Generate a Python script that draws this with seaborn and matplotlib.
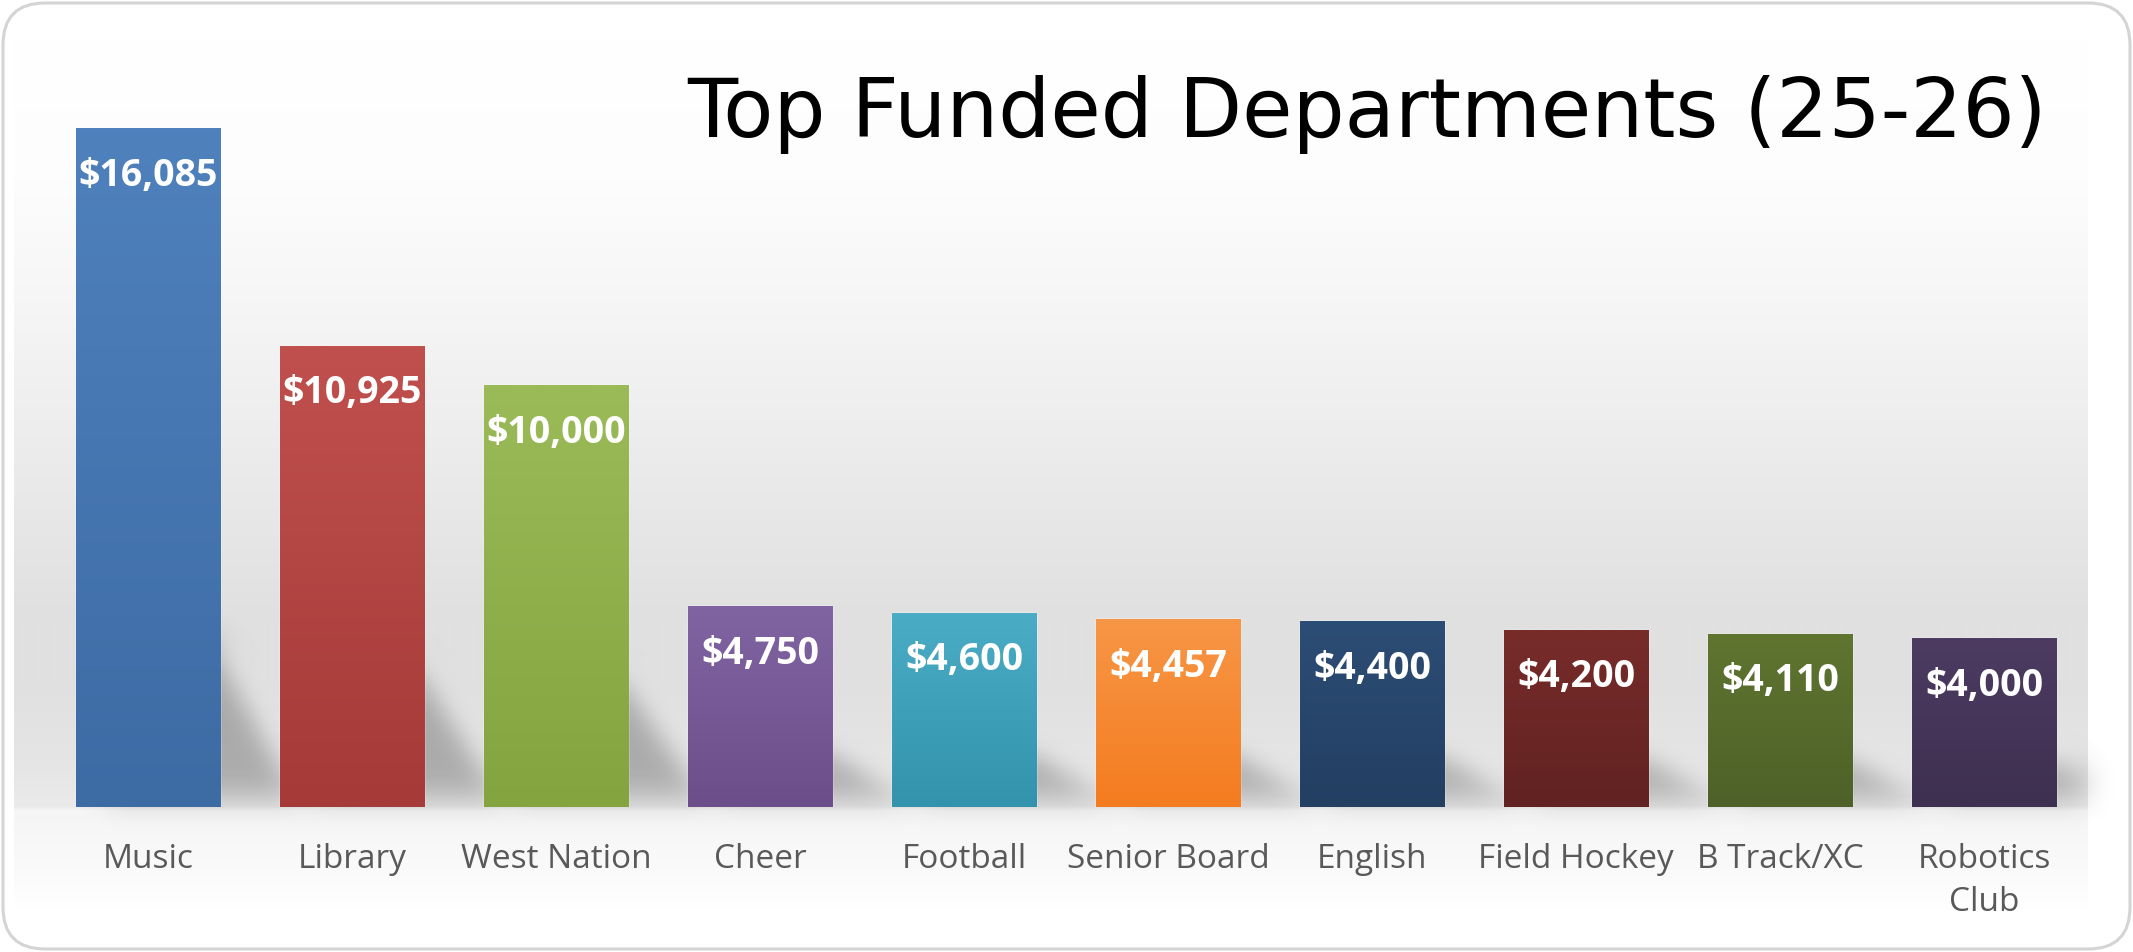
import numpy as np
import matplotlib
matplotlib.use("Agg")
import matplotlib.pyplot as plt
import seaborn as sns
from matplotlib.patches import FancyBboxPatch, Polygon
from matplotlib.collections import PatchCollection
from matplotlib.colors import to_rgb
from matplotlib.transforms import IdentityTransform

# ---------------- data ----------------
departments = ["Music", "Library", "West Nation", "Cheer", "Football",
               "Senior Board", "English", "Field Hockey", "B Track/XC", "Robotics\nClub"]
amounts = [16085, 10925, 10000, 4750, 4600, 4457, 4400, 4200, 4110, 4000]
title_text = "Top Funded Departments (25-26)"

# palette (gradient top -> bottom)
top_colors = ["#4F81BD", "#C0504D", "#9BBB59", "#8064A2", "#4BACC6",
              "#F79646", "#2C4D75", "#772C2A", "#5F7530", "#4D3B62"]
bottom_colors = ["#3D6BA4", "#A53A38", "#84A43F", "#6C4E8A", "#3393AD",
                 "#F47C20", "#233F62", "#612221", "#4E6128", "#3E3050"]

W, H, DPI = 2133, 952, 100
YMAX = 18000

sns.set_theme(style="white")
plt.rcParams['font.family'] = ['Open Sans', 'DejaVu Sans']

fig = plt.figure(figsize=(W / DPI, H / DPI), dpi=DPI)
fig.patch.set_facecolor("white")

# ---------------- background gradient (wall + floor) ----------------
bg_top, bg_bot, bg_l, bg_r = 40, 910, 14, 2088
bg = fig.add_axes([bg_l / W, (H - bg_bot) / H, (bg_r - bg_l) / W, (bg_bot - bg_top) / H], zorder=0)
ys = np.arange(bg_top, bg_bot)
stops_y = [40, 180, 300, 420, 520, 620, 680, 760, 806, 810, 870, 910]
stops_v = [255, 253, 246, 238, 231, 224, 224, 229, 234, 245, 250, 255]
col = np.interp(ys, stops_y, stops_v) / 255.0
grad = np.repeat(col[:, None], 4, axis=1)
grad_rgb = np.dstack([grad, grad, grad])
bg.imshow(grad_rgb, aspect="auto", extent=[0, 1, 0, 1], interpolation="bilinear")
bg.set_axis_off()

# ---------------- main axes ----------------
px_per_unit_y = 759.8 / YMAX
ax_left, ax_w = 46, 2040
base_px = 807
ax_h = YMAX * px_per_unit_y
ax = fig.add_axes([ax_left / W, (H - base_px) / H, ax_w / W, ax_h / H], zorder=2)
ax.set_facecolor("none")

bar_w = 0.71
sns.barplot(x=departments, y=amounts, hue=departments, palette=top_colors,
            legend=False, width=bar_w, saturation=1, ax=ax, zorder=3)


# ---------------- blurred shadows ----------------
class GaussianBlur:
    def __init__(self, sigma):
        self.sigma = sigma

    def __call__(self, im, dpi):
        s = self.sigma
        pad = int(3 * s)
        p = np.pad(im, [(pad, pad), (pad, pad), (0, 0)], "constant")
        k = np.arange(-pad, pad + 1)
        w = np.exp(-0.5 * (k / s) ** 2)
        w /= w.sum()
        out = np.zeros_like(p)
        for kk, ww in zip(k, w):
            out += ww * np.roll(p, kk, axis=0)
        out2 = np.zeros_like(p)
        for kk, ww in zip(k, w):
            out2 += ww * np.roll(out, kk, axis=1)
        return out2, -pad, -pad


px_per_cat = ax_w / len(departments)
shadow_polys = []
for i, v in enumerate(amounts):
    hs = min(0.32 * v, 170 / px_per_unit_y)
    lift = 8 / px_per_unit_y
    xl = i - bar_w / 2
    xr = i + bar_w / 2
    ext = 85 / px_per_cat
    shadow_polys.append(Polygon([(xl + 0.15, lift), (xl + 0.15, hs), (xr - 0.02, hs),
                                 (xr + ext, lift)], closed=True))
pc = PatchCollection(shadow_polys, facecolor=(0, 0, 0, 0.25), edgecolor="none", zorder=1)
pc.set_agg_filter(GaussianBlur(15))
ax.add_collection(pc)

# ---------------- bar gradients ----------------
bars = [p for p in ax.patches]
for p, ct, cb in zip(bars, top_colors, bottom_colors):
    x0, y0 = p.get_x(), p.get_y()
    w, h = p.get_width(), p.get_height()
    t = np.linspace(0, 1, 64)[:, None]
    c1, c2 = np.array(to_rgb(ct)), np.array(to_rgb(cb))
    img = (1 - t)[:, :, None] * c1[None, None, :] + t[:, :, None] * c2[None, None, :]
    img = np.repeat(img, 2, axis=1)
    im = ax.imshow(img, extent=[x0, x0 + w, y0, y0 + h], aspect="auto",
                   interpolation="bilinear", zorder=4)
    im.set_clip_path(p)

# ---------------- value labels ----------------
for i, v in enumerate(amounts):
    ax.annotate(f"${v:,}", (i, v), xytext=(0, -34.3), textcoords="offset points",
                ha="center", va="center", color="white", fontsize=27,
                fontweight="bold", zorder=6)

ax.set_xlim(-0.5, len(departments) - 0.5)
ax.set_ylim(0, YMAX)
ax.set_yticks([])
ax.set_xlabel("")
ax.set_ylabel("")
for s in ax.spines.values():
    s.set_visible(False)
ax.tick_params(axis="x", length=0, pad=26, labelsize=24, labelcolor="#595959")
for lab in ax.get_xticklabels():
    lab.set_linespacing(1.38)

# ---------------- title ----------------
fig.text(2047 / W, 1 - 137 / H, title_text, ha="right", va="baseline",
         fontsize=59, family=["DejaVu Sans"], fontweight="normal", color="black")

# ---------------- rounded border ----------------
border = FancyBboxPatch((3, 3), W - 6, H - 6, boxstyle="round,pad=0,rounding_size=42",
                        transform=IdentityTransform(), facecolor="none",
                        edgecolor="#D4D4D4", linewidth=2.2, zorder=10)
fig.add_artist(border)

fig.savefig("out.png", dpi=DPI, facecolor="white")
